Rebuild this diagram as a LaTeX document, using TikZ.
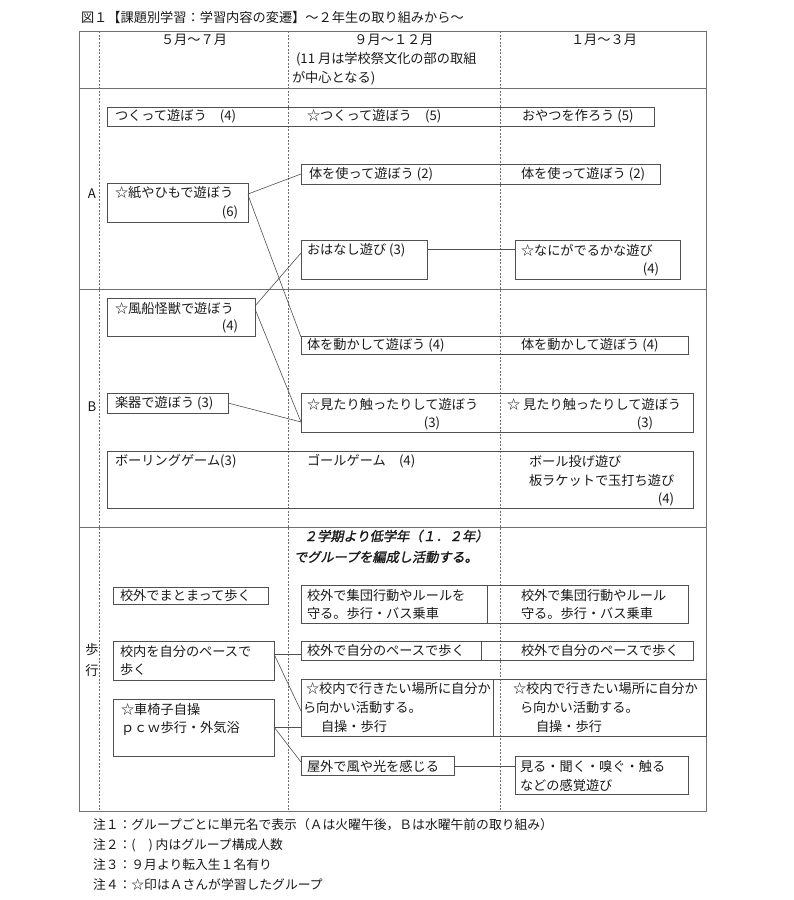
\documentclass[tikz,border=0pt]{standalone}
\usepackage{fontspec}
\setmainfont{Noto Sans CJK JP}
\newfontfamily\bifont[FakeSlant=0.2,FakeBold=1.5]{Noto Sans CJK JP}
\usetikzlibrary{calc}
\definecolor{ink}{HTML}{1A1A1A}
\definecolor{rule}{HTML}{505050}
\definecolor{frame}{HTML}{707070}
\tikzset{
  txt/.style={inner sep=0pt, outer sep=0pt, text=ink, font=\fontsize{13.2}{15}\selectfont},
  notetxt/.style={txt, font=\fontsize{12.8}{15}\selectfont},
  boxst/.style={draw=rule, line width=0.6pt, inner sep=0pt, outer sep=0pt, anchor=north west},
  conn/.style={draw=rule, line width=0.6pt},
  tbl/.style={draw=frame, line width=0.7pt},
  coldiv/.style={draw=frame, line width=0.6pt, dash pattern=on 2pt off 1.5pt},
}
\newcommand{\mytx}[5][west]{\node[txt,anchor=#1] (#2) at (#3,#4) {#5};}
\newcommand{\mybx}[5]{\node[boxst, minimum width=#4pt, minimum height=#5pt] (#1) at (#2,#3) {};}
\begin{document}
\begin{tikzpicture}[x=1pt,y=-1pt]
\useasboundingbox (0,0) rectangle (794,900);
\fill[white] (0,0) rectangle (794,900);

% title
\node[txt, anchor=west] (title) at (81,17) {図１【課題別学習：学習内容の変遷】～２年生の取り組みから～};

% table frame
\draw[tbl] (79,31) rectangle (706,811);
\draw[tbl] (79,88) -- (706,88);
\draw[tbl] (79,289) -- (706,289);
\draw[tbl] (79,527) -- (706,527);
\draw[coldiv] (99,31) -- (99,811);
\draw[coldiv] (288,31) -- (288,811);
\draw[coldiv] (500,31) -- (500,811);

% header
\mytx[center]{h1}{194}{40}{５月～７月}
\mytx[center]{h2}{394}{40}{９月～１２月}
\mytx{h2b}{296}{59}{(11 月は学校祭文化の部の取組}
\mytx{h2c}{292}{78}{が中心となる)}
\mytx[center]{h3}{604}{40}{１月～３月}

% row labels
\mytx[center]{lA}{92}{194}{A}
\mytx[center]{lB}{92}{407}{B}
\mytx[center]{lW1}{92}{650}{歩}
\mytx[center]{lW2}{92}{670}{行}

% ---------- row A ----------
\mybx{tsukutte}{107}{107}{547}{19}
\mytx{t1}{115}{116.5}{つくって遊ぼう　(4)}
\mytx{t2}{307}{116.5}{☆つくって遊ぼう　(5)}
\mytx{t3}{522}{116.5}{おやつを作ろう (5)}

\mybx{kami}{107}{183}{141}{39}
\mytx{t4}{115}{193}{☆紙やひもで遊ぼう}
\mytx[center]{t5}{230}{212}{(6)}

\mybx{karadaT}{301}{164}{359}{20}
\mytx{t6}{309}{174}{体を使って遊ぼう (2)}
\mytx{t7}{521}{174}{体を使って遊ぼう (2)}

\mybx{ohanashi}{301}{240}{126}{39}
\mytx{t8}{307}{250}{おはなし遊び (3)}

\mybx{nani}{515}{240}{165}{39}
\mytx{t9}{521}{250}{☆なにがでるかな遊び}
\mytx[center]{t10}{651}{269}{(4)}

% ---------- row B ----------
\mybx{fusen}{107}{298}{148}{38}
\mytx{t11}{115}{308}{☆風船怪獣で遊ぼう}
\mytx[center]{t12}{230}{326}{(4)}

\mybx{karadaU}{301}{336}{387}{18}
\mytx{t13}{307}{345}{体を動かして遊ぼう (4)}
\mytx{t14}{521}{345}{体を動かして遊ぼう (4)}

\mybx{gakki}{107}{393}{121}{20}
\mytx{t15}{115}{403.5}{楽器で遊ぼう (3)}

\mybx{mitari}{301}{393}{392}{39}
\mytx{t16}{307}{404}{☆見たり触ったりして遊ぼう}
\mytx[center]{t17}{432}{423}{(3)}
\mytx{t18}{507}{404}{☆ 見たり触ったりして遊ぼう}
\mytx[center]{t19}{645}{423}{(3)}

\mybx{bowling}{107}{451}{586}{57}
\mytx{t20}{115}{461}{ボーリングゲーム(3)}
\mytx{t21}{307}{461}{ゴールゲーム　(4)}
\mytx{t22}{529}{461}{ボール投げ遊び}
\mytx{t23}{529}{480}{板ラケットで玉打ち遊び}
\mytx[center]{t24}{666}{499}{(4)}

% ---------- row walking ----------
\node[txt, anchor=west, font=\fontsize{13.2}{15}\bifont] (it1) at (304,536) {２学期より低学年（１．２年）};
\node[txt, anchor=west, font=\fontsize{13.2}{15}\bifont] (it2) at (294,557) {でグループを編成し活動する。};

\mybx{matomatte}{113}{587}{155}{17}
\mytx{t25}{120}{595.5}{校外でまとまって歩く}

\mybx{shudan}{301}{585}{387}{38}
\draw[conn] ($(shudan.north west)+(186,0)$) -- ($(shudan.south west)+(186,0)$);
\mytx{t26}{307}{595}{校外で集団行動やルールを}
\mytx{t27}{307}{614}{守る。歩行・バス乗車}
\mytx{t28}{521}{595}{校外で集団行動やルール}
\mytx{t29}{521}{614}{守る。歩行・バス乗車}

\mybx{konaiJ}{113}{641}{161}{39}
\mytx{t30}{120}{651}{校内を自分のペースで}
\mytx{t31}{120}{670}{歩く}

\mybx{kogaiP}{301}{641}{392}{19}
\draw[conn] ($(kogaiP.north west)+(180,0)$) -- ($(kogaiP.south west)+(180,0)$);
\mytx{t32}{307}{651}{校外で自分のペースで歩く}
\mytx{t33}{521}{651}{校外で自分のペースで歩く}

\mybx{kuruma}{113}{699}{161}{57}
\mytx{t34}{121}{709}{☆車椅子自操}
\mytx{t35}{121}{728}{ｐｃｗ歩行・外気浴}

\mybx{konaiI}{301}{679}{405}{57}
\draw[conn] ($(konaiI.north west)+(192,0)$) -- ($(konaiI.south west)+(192,0)$);
\mytx{t36}{306}{688}{☆校内で行きたい場所に自分か}
\mytx{t37}{303}{707}{ら向かい活動する。}
\mytx{t38}{321}{727}{自操・歩行}
\mytx{t39}{513}{688}{☆校内で行きたい場所に自分か}
\mytx{t40}{520}{707}{ら向かい活動する。}
\mytx{t41}{536}{727}{自操・歩行}

\mybx{okugai}{301}{756}{153}{19}
\mytx{t42}{307}{766}{屋外で風や光を感じる}

\mybx{miru}{515}{756}{173}{38}
\mytx{t43}{520}{766}{見る・聞く・嗅ぐ・触る}
\mytx{t44}{520}{785}{などの感覚遊び}

% ---------- connectors ----------
\draw[conn] ($(kami.north east)+(0,11)$) -- ($(karadaT.north west)+(0,10)$);
\draw[conn] ($(kami.north east)+(0,12)$) -- ($(karadaU.north west)+(0,1)$);
\draw[conn] ($(fusen.north east)+(0,8)$) -- ($(ohanashi.north west)+(0,13)$);
\draw[conn] ($(fusen.north east)+(0,11)$) -- ($(mitari.north west)+(0,29)$);
\draw[conn] ($(gakki.north east)+(0,10)$) -- ($(mitari.north west)+(0,29)$);
\draw[conn] ($(ohanashi.north east)+(0,9)$) -- ($(nani.north west)+(0,9)$);
\draw[conn] ($(konaiJ.north east)+(0,13)$) -- ($(kogaiP.north west)+(0,13)$);
\draw[conn] ($(konaiJ.north east)+(0,13)$) -- ($(konaiI.north west)+(0,32)$);
\draw[conn] ($(kuruma.north east)+(0,28)$) -- ($(konaiI.north west)+(0,48)$);
\draw[conn] ($(kuruma.north east)+(0,28)$) -- ($(okugai.north west)+(0,6)$);
\draw[conn] ($(okugai.north east)+(0,10)$) -- ($(miru.north west)+(0,10)$);

% ---------- notes ----------
\node[notetxt, anchor=west] (n1) at (93,825) {注１：グループごとに単元名で表示（Ａは火曜午後，Ｂは水曜午前の取り組み）};
\node[notetxt, anchor=west] (n2) at (93,845) {注２：(　) 内はグループ構成人数};
\node[notetxt, anchor=west] (n3) at (93,865) {注３：９月より転入生１名有り};
\node[notetxt, anchor=west] (n4) at (93,885) {注４：☆印はＡさんが学習したグループ};
\end{tikzpicture}
\end{document}
